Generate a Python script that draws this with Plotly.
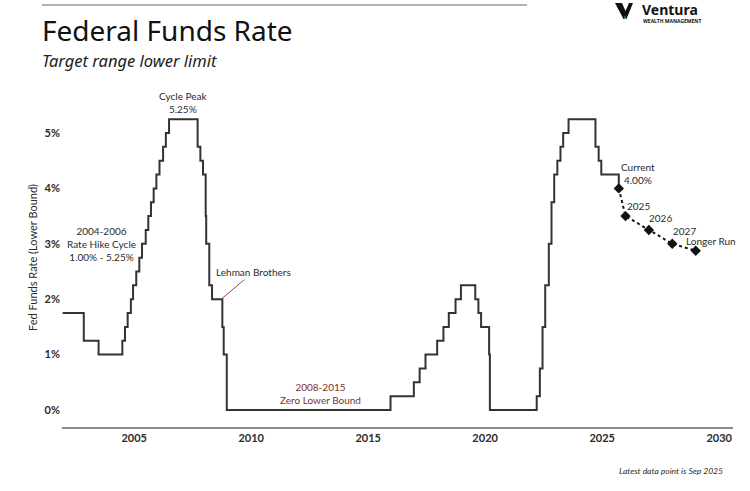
import plotly.graph_objects as go

# ---- data ----
dates = ["2001-12-11", "2002-11-06", "2003-06-25", "2004-06-30", "2004-08-10", "2004-09-21",
         "2004-11-10", "2004-12-14", "2005-02-02", "2005-03-22", "2005-05-03", "2005-06-30",
         "2005-08-09", "2005-09-20", "2005-11-01", "2005-12-13", "2006-01-31", "2006-03-28",
         "2006-05-10", "2006-06-29", "2007-09-18", "2007-10-31", "2007-12-11", "2008-01-22",
         "2008-01-30", "2008-03-18", "2008-04-30", "2008-10-08", "2008-10-29", "2008-12-16",
         "2015-12-16", "2016-12-14", "2017-03-15", "2017-06-14", "2017-12-13", "2018-03-21",
         "2018-06-13", "2018-09-26", "2018-12-19", "2019-07-31", "2019-09-18", "2019-10-30",
         "2020-03-03", "2020-03-15", "2022-03-16", "2022-05-04", "2022-06-15", "2022-07-27",
         "2022-09-21", "2022-11-02", "2022-12-14", "2023-02-01", "2023-03-22", "2023-05-03",
         "2023-07-26", "2024-09-18", "2024-11-07", "2024-12-18", "2025-09-17"]
rates = [1.75, 1.25, 1.00, 1.25, 1.50, 1.75,
         2.00, 2.25, 2.50, 2.75, 3.00, 3.25,
         3.50, 3.75, 4.00, 4.25, 4.50, 4.75,
         5.00, 5.25, 4.75, 4.50, 4.25, 3.50,
         3.00, 2.25, 2.00, 1.50, 1.00, 0.00,
         0.25, 0.50, 0.75, 1.00, 1.25, 1.50,
         1.75, 2.00, 2.25, 2.00, 1.75, 1.50,
         1.00, 0.00, 0.25, 0.75, 1.50, 2.25,
         3.00, 3.75, 4.25, 4.50, 4.75, 5.00,
         5.25, 4.75, 4.50, 4.25, 4.00]

proj_dates = ["2025-09-17", "2025-12-31", "2026-12-31", "2027-12-31", "2028-12-31"]
proj_rates = [4.00, 3.50, 3.25, 3.00, 2.875]
proj_labels = ["Current<br>4.00%", "2025", "2026", "2027", "Longer Run"]

y_tickvals = [0, 1, 2, 3, 4, 5]
y_ticktext = ["0%", "1%", "2%", "3%", "4%", "5%"]

FONT = "Lato"
TFONT = "Noto Sans"
INK = "#2b2b2b"
RED = "#7d3030"
AS = 10  # annotation font size

# plot area in pixels
L, R, T, B = 62, 733, 90, 427
W, H = 750, 491
def px(x):
    return (x - L) / (R - L)
def py(y):
    return (B - y) / (B - T)

fig = go.Figure()
fig.add_trace(go.Scatter(x=dates, y=rates, mode="lines", line=dict(shape="hv", color="#333333", width=2),
                         hoverinfo="skip", showlegend=False))
fig.add_trace(go.Scatter(x=proj_dates, y=proj_rates, mode="lines+markers",
                         line=dict(color="#111111", width=2, dash="dot"),
                         marker=dict(symbol="diamond", size=8, color="#111111"),
                         hoverinfo="skip", showlegend=False))

ann = []
# projection labels
shifts = [(19, 15), (13, 10), (12, 12), (12, 13), (15, 10)]
for d, v, t, (dx, dy) in zip(proj_dates, proj_rates, proj_labels, shifts):
    ann.append(dict(x=d, y=v, xref="x", yref="y", text=t, showarrow=False, xshift=dx, yshift=dy,
                    font=dict(family=FONT, size=AS, color=INK), yanchor="middle"))

ann += [
    dict(x="2007-02-01", y=5.25, text="Cycle Peak<br>5.25%", showarrow=False, yanchor="bottom", yshift=2,
         font=dict(family=FONT, size=AS, color=INK)),
    dict(x="2003-08-15", y=3.0, text="2004-2006<br>Rate Hike Cycle<br>1.00% - 5.25%", showarrow=False,
         font=dict(family=FONT, size=AS, color=INK)),
    dict(x="2008-09-20", y=2.0, text="Lehman Brothers", showarrow=True, arrowhead=0, arrowwidth=1,
         arrowcolor="#9a4545", ax=32, ay=-27, font=dict(family=FONT, size=AS, color=INK)),
    dict(x="2012-12-15", y=0.3, text="2008-2015<br>Zero Lower Bound", showarrow=False,
         font=dict(family=FONT, size=AS, color=RED)),
    # titles
    dict(x=px(40), y=py(30), xref="paper", yref="paper", text="Federal Funds Rate", showarrow=False,
         xanchor="left", yanchor="middle", font=dict(family=TFONT, size=28, color="#111111")),
    dict(x=px(40), y=py(60), xref="paper", yref="paper", text="<i>Target range lower limit</i>", showarrow=False,
         xanchor="left", yanchor="middle", font=dict(family=TFONT, size=16.5, color="#222222")),
    dict(x=px(32), y=py(258), xref="paper", yref="paper", text="Fed Funds Rate (Lower Bound)", showarrow=False,
         textangle=-90, xanchor="center", yanchor="middle", font=dict(family=FONT, size=11, color=INK)),
    dict(x=px(725), y=py(471), xref="paper", yref="paper", text="<i>Latest data point is Sep 2025</i>",
         showarrow=False, xanchor="right", yanchor="middle", font=dict(family=FONT, size=8.5, color=INK)),
    # logo text
    dict(x=px(641), y=py(9), xref="paper", yref="paper", text="<b>Ventura</b>", showarrow=False,
         xanchor="left", yanchor="middle", height=16, borderpad=0,
         font=dict(family=TFONT, size=14, color="#111111")),
    dict(x=px(642), y=py(20.5), xref="paper", yref="paper", text="<b>WEALTH MANAGEMENT</b>", showarrow=False,
         xanchor="left", yanchor="middle", height=6, borderpad=0,
         font=dict(family=TFONT, size=5, color="#111111")),
]

def path(points):
    return "M " + " L ".join(f"{px(a):.5f},{py(b):.5f}" for a, b in points) + " Z"

shapes = [
    dict(type="line", xref="paper", yref="paper", x0=px(42), x1=px(527), y0=py(5), y1=py(5),
         line=dict(color="#9a9a9a", width=1.5)),
    dict(type="path", xref="paper", yref="paper",
         path=path([(615, 3), (622, 3), (625.5, 11), (629, 3), (633, 3), (626.5, 19), (623.5, 19)]),
         fillcolor="#111111", line=dict(width=0)),
    dict(type="path", xref="paper", yref="paper",
         path=path([(623.8, 19), (626.2, 19), (625, 15.5)]),
         fillcolor="#3aa34a", line=dict(width=0)),
]

fig.update_layout(
    width=W, height=H, autosize=False,
    margin=dict(l=L, r=W - R, t=T, b=H - B),
    plot_bgcolor="white", paper_bgcolor="white",
    annotations=ann, shapes=shapes,
    xaxis=dict(type="date", range=["2001-12-01", "2030-08-05"], tick0="2005-01-01", dtick="M60",
               tickformat="%Y", showgrid=False, zeroline=False, showline=True, linecolor="#8a8a8a",
               linewidth=2, ticks="", tickfont=dict(family=FONT, size=11, color=INK, weight=700)),
    yaxis=dict(range=[-0.307, 5.776], tickvals=y_tickvals, ticktext=y_ticktext, showgrid=False,
               zeroline=False, showline=False, ticks="", ticklabelstandoff=1,
               tickfont=dict(family=FONT, size=11, color=INK, weight=700)),
)

fig.write_html("out.html", config={"displayModeBar": False},
               post_script="document.body.style.margin='0';document.body.style.padding='0';")
